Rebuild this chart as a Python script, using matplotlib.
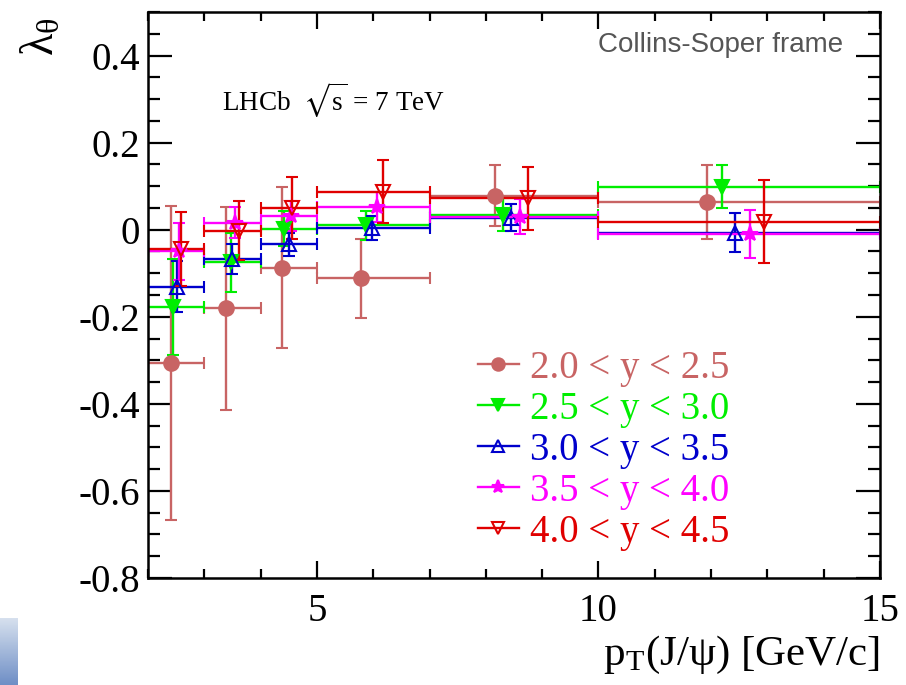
import numpy as np
import matplotlib.pyplot as plt
from matplotlib.lines import Line2D
from matplotlib.colors import LinearSegmentedColormap
from matplotlib.ticker import MultipleLocator, FuncFormatter

plt.rcParams['font.family'] = ['Liberation Serif', 'DejaVu Serif']
plt.rcParams['mathtext.fontset'] = 'stix'
plt.rcParams['axes.unicode_minus'] = False

# pT bins
bin_lo = [2, 3, 4, 5, 7, 10]
bin_hi = [3, 4, 5, 7, 10, 15]

labels = ['2.0 < y < 2.5', '2.5 < y < 3.0', '3.0 < y < 3.5', '3.5 < y < 4.0', '4.0 < y < 4.5']

# mean pT of each point
pt_1 = [2.41, 3.38, 4.38, 5.78, 8.17, 11.93]
pt_2 = [2.45, 3.48, 4.41, 5.87, 8.31, 12.20]
pt_3 = [2.51, 3.49, 4.50, 5.97, 8.45, 12.43]
pt_4 = [2.55, 3.54, 4.54, 6.06, 8.60, 12.70]
pt_5 = [2.58, 3.61, 4.56, 6.17, 8.75, 12.94]

# lambda_theta
lam_1 = [-0.306, -0.180, -0.087, -0.112, 0.078, 0.064]
lam_2 = [-0.177, -0.075, 0.002, 0.010, 0.034, 0.099]
lam_3 = [-0.131, -0.067, -0.034, 0.004, 0.028, -0.007]
lam_4 = [-0.050, 0.016, 0.031, 0.052, 0.030, -0.010]
lam_5 = [-0.044, -0.002, 0.050, 0.087, 0.072, 0.018]

# errors
err_1 = [0.360, 0.233, 0.184, 0.090, 0.070, 0.085]
err_2 = [0.110, 0.068, 0.040, 0.033, 0.038, 0.050]
err_3 = [0.058, 0.035, 0.027, 0.027, 0.031, 0.045]
err_4 = [0.066, 0.035, 0.035, 0.035, 0.040, 0.055]
err_5 = [0.085, 0.068, 0.072, 0.072, 0.072, 0.095]

pts = [pt_1, pt_2, pt_3, pt_4, pt_5]
lams = [lam_1, lam_2, lam_3, lam_4, lam_5]
errs = [err_1, err_2, err_3, err_4, err_5]
colors = ['#C86464', '#00EE00', '#0000CC', '#FF00FF', '#E00000']
markers = ['o', 'v', '^', '*', 'v']
faces = ['#C86464', '#00EE00', 'none', '#FF00FF', 'none']
msizes = [10.5, 10, 10, 11.5, 10]

W, H = 906, 685
fig = plt.figure(figsize=(W / 100, H / 100), dpi=100)
ax = fig.add_axes([148 / W, 1 - 578 / H, (880 - 148) / W, (578 - 12) / H])

handles = []
for i in range(5):
    x = np.array(pts[i])
    xerr = [x - np.array(bin_lo), np.array(bin_hi) - x]
    ax.errorbar(x, lams[i], yerr=errs[i], xerr=xerr, fmt=markers[i], color=colors[i],
                mfc=faces[i], mec=colors[i], ms=msizes[i], mew=1.5, elinewidth=1.7,
                capsize=4, capthick=1.7)
    handles.append(Line2D([], [], color=colors[i], lw=1.7, marker=markers[i], mfc=faces[i],
                          mec=colors[i], ms=msizes[i] * 0.85, mew=1.5))

ax.set_xlim(2, 15)
ax.set_ylim(-0.8, 0.5)
ax.xaxis.set_major_locator(MultipleLocator(5))
ax.xaxis.set_minor_locator(MultipleLocator(1))
ax.yaxis.set_major_locator(MultipleLocator(0.2))
ax.yaxis.set_minor_locator(MultipleLocator(0.05))
ax.yaxis.set_major_formatter(FuncFormatter(lambda v, p: '0' if abs(v) < 1e-9 else '%.1f' % v))
ax.tick_params(which='both', direction='in', top=True, right=True, width=1.6, labelsize=28)
ax.tick_params(axis='x', which='major', length=12, pad=11)
ax.tick_params(axis='x', which='minor', length=6.5)
ax.tick_params(axis='y', which='major', length=17, pad=6)
ax.tick_params(axis='y', which='minor', length=8.5)
for s in ax.spines.values():
    s.set_linewidth(1.8)

fig.text(880 / W, 1 - 655 / H, 'p$_\\mathregular{T}$(J/ψ) [GeV/c]', fontsize=31, ha='right', va='center')
fig.text(20 / W, 1 - 56 / H, 'λ$_\\mathregular{θ}$', fontsize=33, rotation=90, ha='left', va='bottom')

fig.text(222 / W, 1 - 100 / H, 'LHCb  $\\sqrt{\\mathregular{s}}$ = 7 TeV', fontsize=19.5, va='center', ha='left')
fig.text(843 / W, 1 - 45 / H, 'Collins-Soper frame', fontsize=20, color='#555555',
         family='Liberation Sans', ha='right', va='center')

leg = ax.legend(handles=handles, labels=labels, loc='upper left', bbox_to_anchor=(478 / W, 1 - 350 / H),
                bbox_transform=fig.transFigure, frameon=False, fontsize=28, handlelength=1.05,
                handletextpad=0.28, labelspacing=0.1, borderpad=0, borderaxespad=0)
for t, c in zip(leg.get_texts(), colors):
    t.set_color(c)

# blue corner patch of the original slide
corner = fig.add_axes([0, 0, 18 / W, 67 / H])
corner.imshow(np.linspace(0, 1, 50).reshape(-1, 1),
              cmap=LinearSegmentedColormap.from_list('c', ['#D6E0EE', '#6F8FC6']), aspect='auto')
corner.axis('off')

fig.savefig('out.png', dpi=100)
